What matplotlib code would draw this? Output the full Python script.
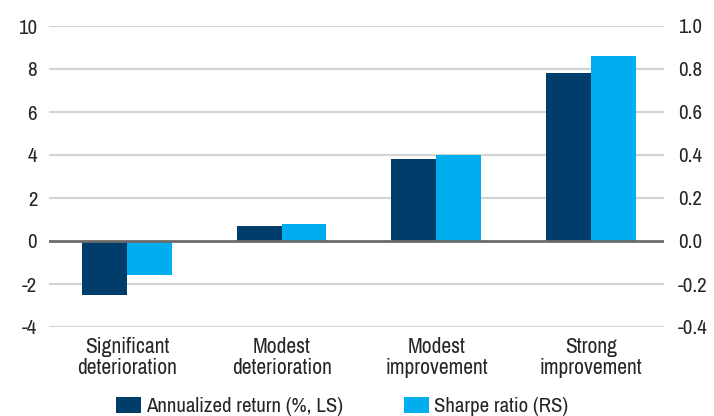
import matplotlib
matplotlib.use("Agg")
import matplotlib.pyplot as plt
from matplotlib.patches import Patch
import numpy as np

categories = ["Significant\ndeterioration", "Modest\ndeterioration",
              "Modest\nimprovement", "Strong\nimprovement"]
annualized_return = [-2.5, 0.7, 3.8, 7.8]      # %, left scale
sharpe_ratio = [-0.16, 0.08, 0.40, 0.86]       # right scale
left_ticks = [-4, -2, 0, 2, 4, 6, 8, 10]
right_ticks = [-0.4, -0.2, 0.0, 0.2, 0.4, 0.6, 0.8, 1.0]

NAVY = "#003d6b"
SKY = "#00aeef"
GRID = "#d4d4d4"
ZERO = "#6b6b6b"
TXT = "#262626"

plt.rcParams["font.family"] = ["Archivo Narrow", "Liberation Sans", "DejaVu Sans"]
plt.rcParams["axes.unicode_minus"] = False
plt.rcParams["text.color"] = TXT

fig = plt.figure(figsize=(7.14, 4.16), dpi=100)
ax = fig.add_axes([49 / 714, 89 / 416, 615 / 714, 301 / 416])
ax2 = ax.twinx()

x = np.arange(len(categories))
w = 0.29

ax.bar(x - w / 2, annualized_return, width=w, color=NAVY, zorder=3)
ax2.bar(x + w / 2, sharpe_ratio, width=w, color=SKY, zorder=3)

ax.set_ylim(-4, 10)
ax2.set_ylim(-0.4, 1.0)
ax.set_xlim(-0.504, 3.472)

ax.set_yticks(left_ticks)
ax.set_yticklabels([f"{v:d}" for v in left_ticks])
ax2.set_yticks(right_ticks)
ax2.set_yticklabels([f"{v:.1f}" for v in right_ticks])

for t in left_ticks:
    if t != 0:
        ax.axhline(t, color=GRID, lw=1.6, zorder=0)
ax2.axhline(0, color=ZERO, lw=2.0, zorder=5)

ax.set_xticks(x)
ax.set_xticklabels(categories, linespacing=1.05, fontsize=15.5)

for a in (ax, ax2):
    for s in a.spines.values():
        s.set_visible(False)
    a.tick_params(axis="y", length=0, labelsize=15, colors=TXT)
ax.tick_params(axis="x", length=0, colors=TXT, pad=7)
ax.tick_params(axis="y", pad=8.5)
ax2.tick_params(axis="y", pad=10)

handles = [Patch(facecolor=NAVY, edgecolor="none", label="Annualized return (%, LS)"),
           Patch(facecolor=SKY, edgecolor="none", label="Sharpe ratio (RS)")]
fig.legend(handles=handles, loc="lower center", bbox_to_anchor=(342 / 714, -0.035),
           ncol=2, frameon=False, fontsize=15, handlelength=1.2, handleheight=0.8,
           handletextpad=0.25, columnspacing=2.9, borderpad=0.2)

fig.savefig("out.png", dpi=100)
